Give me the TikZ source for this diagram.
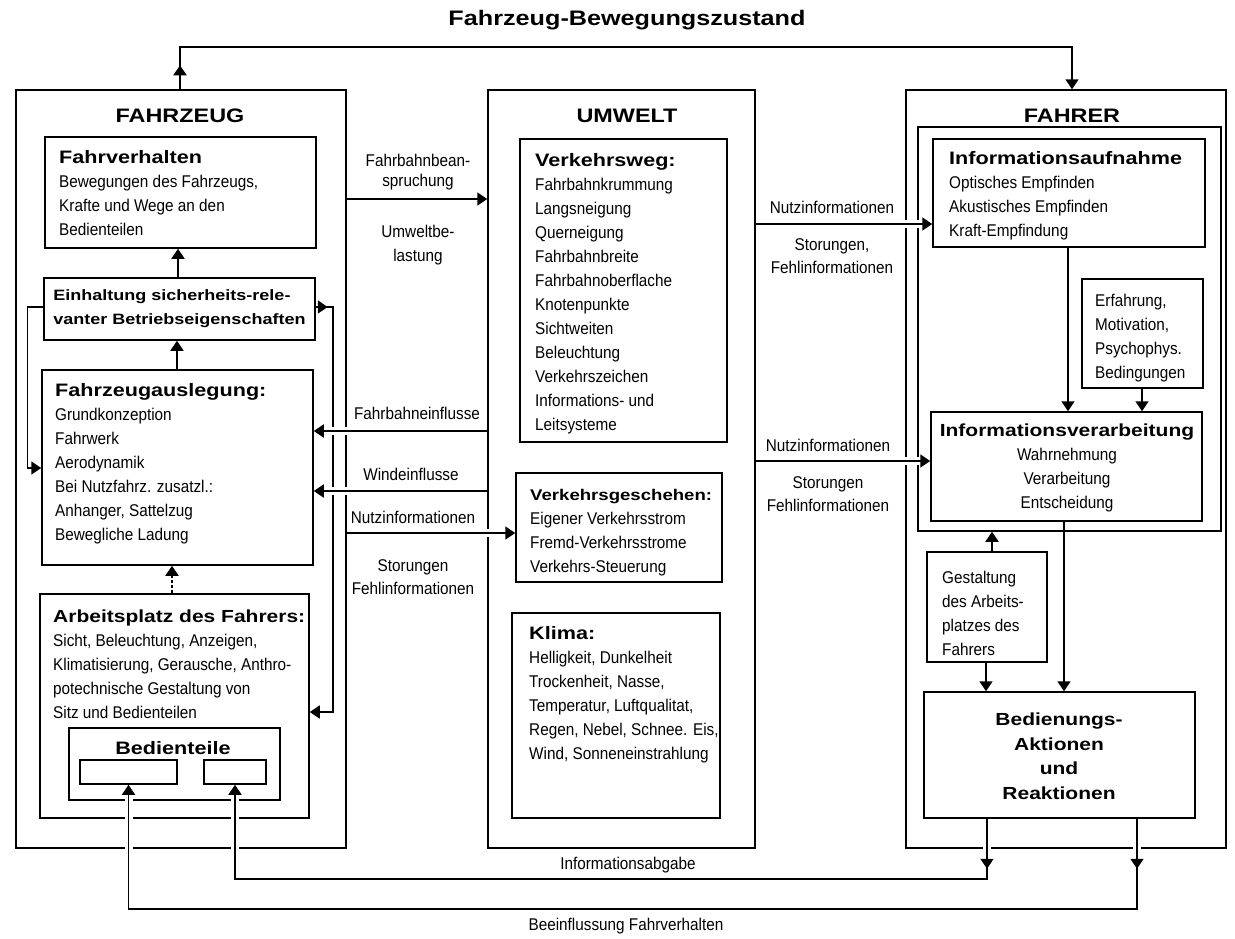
\documentclass[tikz,border=0pt]{standalone}
\usepackage{fontspec}
\setmainfont{Liberation Sans}
\newfontfamily\bodyf[FakeStretch=0.9]{Liberation Sans}
\newfontfamily\headf[FakeStretch=1.2]{Liberation Sans}
\usetikzlibrary{arrows.meta,fit,decorations.markings}
\newcommand\bd{\bodyf\fontsize{17}{24}\selectfont}
\newcommand\hd{\headf\bfseries\fontsize{18}{24}\selectfont}
\tikzset{
  box/.style={draw, line width=1.5pt, inner sep=0pt},
  ln/.style={line width=1.5pt},
  arr/.style={ln, -{Triangle[length=10pt,width=13pt]}},
  gap/.style={preaction={draw=white, line width=8pt, -, shorten <=6pt, shorten >=6pt}},
  midarr/.style={postaction={decorate, decoration={markings, mark=at position #1 with {\arrow{Triangle[length=10pt,width=13pt]}}}}},
  txt/.style={inner sep=0pt, align=left, font=\bd},
  ctxt/.style={inner sep=0pt, align=center, font=\bd},
}
\begin{document}
\begin{tikzpicture}[x=1pt,y=-1pt]
\fill[white] (0,0) rectangle (1235,938);
\useasboundingbox (0,0) rectangle (1235,938);

% ---------- title ----------
\node[anchor=base, inner sep=0pt, font=\headf\bfseries\fontsize{21}{24}\selectfont] (title) at (627,25) {Fahrzeug-Bewegungszustand};

% ---------- outer boxes ----------
\node[box, fit={(16,90)(346,848)}] (fzo) {};
\node[box, fit={(488,90)(755,848)}] (umw) {};
\node[box, fit={(906,90)(1226,848)}] (fah) {};
\node[anchor=base, inner sep=0pt, font=\hd\fontsize{19.5}{24}\selectfont] (fzot) at (180,122) {FAHRZEUG};
\node[anchor=base, inner sep=0pt, font=\hd\fontsize{19.5}{24}\selectfont] (umwt) at (627,122) {UMWELT};
\node[anchor=base, inner sep=0pt, font=\hd\fontsize{19.5}{24}\selectfont] (faht) at (1072,122) {FAHRER};

% ---------- FAHRZEUG ----------
\node[box, fit={(45,137)(316,248)}] (fv) {};
\node[txt, anchor=north west] (fvt) at (59,150) {{\hd Fahrverhalten}\\Bewegungen des Fahrzeugs,\\Krafte und Wege an den\\Bedienteilen};
\node[box, fit={(44,278)(315,340)}] (ein) {};
\node[inner sep=0pt, align=left, font=\headf\bfseries\fontsize{15}{24}\selectfont] (eint) at (ein.center) {Einhaltung sicherheits-rele-\\vanter Betriebseigenschaften};
\node[box, fit={(42,370)(313,565)}] (fza) {};
\node[txt, anchor=north west] (fzat) at (55,383.5) {{\hd Fahrzeugauslegung:}\\Grundkonzeption\\Fahrwerk\\Aerodynamik\\Bei Nutzfahrz. zusatzl.:\\Anhanger, Sattelzug\\Bewegliche Ladung};
\node[box, fit={(40,594)(309,818)}] (arb) {};
\node[txt, anchor=north west] (arbt) at (53,609.5) {{\hd\fontsize{17.5}{24}\selectfont Arbeitsplatz des Fahrers:}\\Sicht, Beleuchtung, Anzeigen,\\Klimatisierung, Gerausche, Anthro-\\potechnische Gestaltung von\\Sitz und Bedienteilen};
\node[box, fit={(69,728)(280,800)}] (bdt) {};
\node[anchor=base, inner sep=0pt, font=\hd] (bdtt) at (173,754) {Bedienteile};
\node[box, fit={(80,760)(177,784)}] (s1) {};
\node[box, fit={(204,760)(266,784)}] (s2) {};

% ---------- UMWELT ----------
\node[box, fit={(520,139)(727,442)}] (vw) {};
\node[txt, anchor=north west] (vwt) at (535,153) {{\hd Verkehrsweg:}\\Fahrbahnkrummung\\Langsneigung\\Querneigung\\Fahrbahnbreite\\Fahrbahnoberflache\\Knotenpunkte\\Sichtweiten\\Beleuchtung\\Verkehrszeichen\\Informations- und\\Leitsysteme};
\node[box, fit={(516,473)(722,582)}] (vg) {};
\node[txt, anchor=north west] (vgt) at (530,489) {{\headf\bfseries\fontsize{15.5}{24}\selectfont Verkehrsgeschehen:}\\Eigener Verkehrsstrom\\Fremd-Verkehrsstrome\\Verkehrs-Steuerung};
\node[box, fit={(512,613)(720,818)}] (kl) {};
\node[txt, anchor=north west] (klt) at (529,626.5) {{\hd Klima:}\\Helligkeit, Dunkelheit\\Trockenheit, Nasse,\\Temperatur, Luftqualitat,\\Regen, Nebel, Schnee. Eis,\\Wind, Sonneneinstrahlung};

% ---------- FAHRER ----------
\node[box, fit={(918,127)(1221,531)}] (fin) {};
\node[box, fit={(933,139)(1205,247)}] (ia) {};
\node[txt, anchor=north west] (iat) at (949,151.5) {{\hd Informationsaufnahme}\\Optisches Empfinden\\Akustisches Empfinden\\Kraft-Empfindung};
\node[box, fit={(1082,279)(1203,388)}] (erf) {};
\node[txt, anchor=north west] (erft) at (1095,294) {Erfahrung,\\Motivation,\\Psychophys.\\Bedingungen};
\node[box, fit={(931,412)(1202,521)}] (iv) {};
\node[ctxt, anchor=north] (ivt) at (1067,423.5) {{\hd\fontsize{17.5}{24}\selectfont Informationsverarbeitung}\\Wahrnehmung\\Verarbeitung\\Entscheidung};
\node[box, fit={(927,552)(1047,662)}] (ges) {};
\node[txt, anchor=north west] (gest) at (942,571) {Gestaltung\\des Arbeits-\\platzes des\\Fahrers};
\node[box, fit={(924,692)(1195,818)}] (bed) {};
\node[inner sep=0pt, align=center, anchor=north, font=\headf\bfseries\fontsize{17.5}{24.5}\selectfont] (bedt) at (1059,713) {Bedienungs-\\Aktionen\\und\\Reaktionen};

% ---------- helper coordinates ----------
\coordinate (tl) at (180,47);
\coordinate (tr) at (1072,47);
\coordinate (x1) at (178,0);
\coordinate (x2) at (177,0);
\coordinate (x3) at (172,0);
\coordinate (xB) at (1068,0);
\coordinate (xC) at (1142,0);
\coordinate (xD) at (1064,0);
\coordinate (xE) at (992,0);
\coordinate (xF) at (986,0);
\coordinate (xG) at (987,0);
\coordinate (xH) at (1137,0);
\coordinate (yL) at (0,307);
\coordinate (yL2) at (0,468);
\coordinate (yR2) at (0,712);
\coordinate (yA) at (0,199);
\coordinate (yB) at (0,431);
\coordinate (yC) at (0,491);
\coordinate (yD) at (0,533);
\coordinate (yE) at (0,224);
\coordinate (yF) at (0,461);
\coordinate (cR) at (333,307);
\coordinate (bI) at (987,879);
\coordinate (bB) at (1137,909);

% ---------- connectors ----------
\draw[arr, midarr=24pt] (fzo.north -| tl) -- (tl) -- (tr) -- (fah.north -| tr);

\draw[arr] (ein.north -| x1) -- (fv.south -| x1);
\draw[arr] (fza.north -| x2) -- (ein.south -| x2);
\draw[arr, dash pattern=on 3pt off 2pt] (arb.north -| x3) -- (fza.south -| x3);
\draw[arr] (ein.west |- yL) -- ++(-16,0) |- (fza.west |- yL2);
\draw[arr, midarr=12pt] (ein.east |- yL) -- (cR) |- (arb.east |- yR2);

\draw[arr] (ia.south -| xB) -- (iv.north -| xB);
\draw[arr] (erf.south -| xC) -- (iv.north -| xC);
\draw[arr] (iv.south -| xD) -- (bed.north -| xD);
\draw[arr] (ges.north -| xE) -- (fin.south -| xE);
\draw[arr] (ges.south -| xF) -- (bed.north -| xF);

\draw[arr, gap] (fzo.east |- yA) -- (umw.west |- yA);
\draw[arr, gap] (umw.west |- yB) -- (fza.east |- yB);
\draw[arr, gap] (umw.west |- yC) -- (fza.east |- yC);
\draw[arr, gap] (fzo.east |- yD) -- (vg.west |- yD);
\draw[arr, gap] (umw.east |- yE) -- (ia.west |- yE);
\draw[arr, gap] (umw.east |- yF) -- (iv.west |- yF);

\draw[arr, gap, midarr=50pt] (bed.south -| xG) -- (bI) -| (s2.south);
\draw[arr, gap, midarr=50pt] (bed.south -| xH) -- (bB) -| (s1.south);

% ---------- connector labels ----------
\node[ctxt, font=\bodyf\fontsize{17}{20}\selectfont] (lFB) at (418,172) {Fahrbahnbean-\\spruchung};
\node[ctxt] (lUB) at (418,245) {Umweltbe-\\lastung};
\node[ctxt] (lFE) at (417,413) {Fahrbahneinflusse};
\node[ctxt] (lWE) at (411,474) {Windeinflusse};
\node[ctxt] (lNI1) at (413,517) {Nutzinformationen};
\node[ctxt, font=\bodyf\fontsize{17}{23}\selectfont] (lSF1) at (413,577) {Storungen\\Fehlinformationen};
\node[ctxt] (lNI2) at (832,207) {Nutzinformationen};
\node[ctxt, font=\bodyf\fontsize{17}{23}\selectfont] (lSF2) at (832,256) {Storungen,\\Fehlinformationen};
\node[ctxt] (lNI3) at (828,445) {Nutzinformationen};
\node[ctxt, font=\bodyf\fontsize{17}{23}\selectfont] (lSF3) at (828,494) {Storungen\\Fehlinformationen};
\node[ctxt] (lIA) at (628,865) {Informationsabgabe};
\node[ctxt] (lBF) at (626,926) {Beeinflussung Fahrverhalten};
\end{tikzpicture}
\end{document}
